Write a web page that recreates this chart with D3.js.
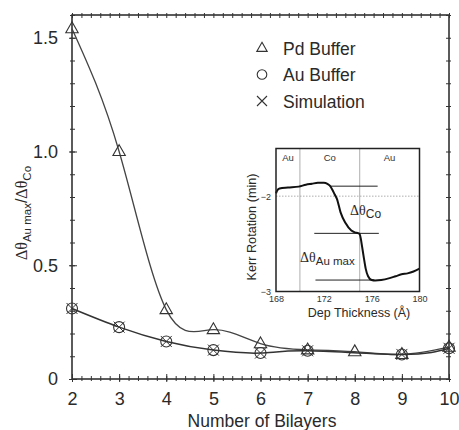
<!DOCTYPE html>
<html>
<head>
<meta charset="utf-8">
<style>
  body { margin: 0; background: #fff; }
  svg { display: block; font-family: "Liberation Sans", Arial, sans-serif; }
</style>
</head>
<body>
  <svg width="459" height="430"></svg>

  <script src="https://d3js.org/d3.v7.min.js"></script>

  <script>
    // ---- data ----
    const bilayers = [2, 3, 4, 5, 6, 7, 8, 9, 10];
    const pdBuffer = [1.54, 1.0, 0.305, 0.217, 0.155, 0.128, 0.12, 0.108, 0.14];
    const auBilayers = [2, 3, 4, 5, 6, 7, 9, 10];
    const auBuffer = [0.31, 0.228, 0.165, 0.127, 0.114, 0.124, 0.108, 0.135];
    const simulation = [0.31, 0.228, 0.165, 0.127, 0.114, 0.124, 0.108, 0.135];

    const xTicks = [2, 3, 4, 5, 6, 7, 8, 9, 10];
    const yTicks = [0, 0.5, 1.0, 1.5];
    const yTickLabels = ["0", "0.5", "1.0", "1.5"];
    const legendNames = ["Pd Buffer", "Au Buffer", "Simulation"];

    // inset: Kerr rotation vs deposited thickness
    const depThickness = [168.0, 168.1, 168.3, 169.0, 169.9, 170.5, 171.0, 171.5, 172.0, 172.3,
                          172.5, 172.7, 172.9, 173.1, 173.4, 173.8, 174.3, 174.6, 174.9, 175.0,
                          175.1, 175.2, 175.35, 175.5, 175.7, 176.0, 176.3, 176.8, 177.5, 178.0,
                          178.5, 179.0, 179.5, 180.0];
    const kerrRotation = [-1.97, -1.94, -1.92, -1.91, -1.90, -1.88, -1.87, -1.86, -1.86, -1.87,
                          -1.89, -1.93, -1.98, -2.03, -2.17, -2.28, -2.36, -2.38, -2.39, -2.40,
                          -2.45, -2.53, -2.65, -2.76, -2.84, -2.88, -2.885, -2.88, -2.86, -2.84,
                          -2.82, -2.81, -2.79, -2.76];
    const insetXTicks = [168, 172, 176, 180];
    const insetYTicks = [-2, -3];
    const insetGrid = [170, 175];
    const insetLayers = [["Au", 169], ["Co", 172.5], ["Au", 177.5]];
    // reference levels [value, from, to]
    const insetLevels = [[-1.895, 172.5, 176.5], [-2.39, 171.2, 176.6], [-2.88, 171.3, 176.2]];

    const svg = d3.select("svg");
    const ink = "#2a2a2a";

    // ---- main plot scales ----
    const x = d3.scaleLinear().domain([2, 10]).range([72, 449]);
    const y = d3.scaleLinear().domain([0, 1.6]).range([379, 15]);

    // frame
    svg.append("rect")
      .attr("x", 72).attr("y", 15)
      .attr("width", 377).attr("height", 364)
      .attr("fill", "none").attr("stroke", "#333").attr("stroke-width", 1.6);

    // helper: axis ticks that cross the frame line
    function crossTicks(g, inner, outer, vertical) {
      g.select(".domain").remove();
      g.selectAll("line")
        .attr("stroke", "#333")
        .attr(vertical ? "x1" : "y1", inner)
        .attr(vertical ? "x2" : "y2", outer);
    }

    const minorX = d3.range(2, 10.001, 0.2);
    const minorY = d3.range(0, 1.601, 0.1);

    // bottom + top minor ticks
    svg.append("g").attr("transform", "translate(0,379)")
      .call(d3.axisBottom(x).tickValues(minorX).tickFormat(""))
      .call(g => crossTicks(g, -3, 2, false));
    svg.append("g").attr("transform", "translate(0,15)")
      .call(d3.axisTop(x).tickValues(minorX).tickFormat(""))
      .call(g => crossTicks(g, 3, -2, false));
    // left + right minor ticks
    svg.append("g").attr("transform", "translate(72,0)")
      .call(d3.axisLeft(y).tickValues(minorY).tickFormat(""))
      .call(g => crossTicks(g, 3, -2, true));
    svg.append("g").attr("transform", "translate(449,0)")
      .call(d3.axisRight(y).tickValues(minorY).tickFormat(""))
      .call(g => crossTicks(g, -3, 2, true));

    // major ticks with labels
    svg.append("g").attr("transform", "translate(0,379)")
      .call(d3.axisBottom(x).tickValues(xTicks).tickFormat(d3.format("d")).tickPadding(7))
      .call(g => crossTicks(g, -5, 3, false))
      .call(g => g.selectAll("text").attr("font-size", 18).attr("fill", ink)
        .attr("font-family", "Liberation Sans, Arial, sans-serif"));
    svg.append("g").attr("transform", "translate(72,0)")
      .call(d3.axisLeft(y).tickValues(yTicks).tickFormat((d, i) => yTickLabels[i]).tickPadding(8))
      .call(g => crossTicks(g, 5, -3, true))
      .call(g => g.selectAll("text").attr("font-size", 18).attr("fill", ink)
        .attr("font-family", "Liberation Sans, Arial, sans-serif"));

    // axis titles
    svg.append("text")
      .attr("x", 262).attr("y", 427)
      .attr("text-anchor", "middle")
      .attr("font-size", 17.5).attr("fill", ink)
      .text("Number of Bilayers");

    const yTitle = svg.append("text")
      .attr("transform", "translate(27,213) rotate(-90)")
      .attr("text-anchor", "middle")
      .attr("font-size", 16).attr("fill", ink);
    yTitle.append("tspan").attr("font-family", "Liberation Serif, serif").text("Δθ");
    yTitle.append("tspan").attr("font-size", 11.5).attr("dy", 4).text("Au max");
    yTitle.append("tspan").attr("dy", -4).text("/");
    yTitle.append("tspan").attr("font-family", "Liberation Serif, serif").text("Δθ");
    yTitle.append("tspan").attr("font-size", 11.5).attr("dy", 4).text("Co");

    // ---- curves ----
    const line = d3.line().curve(d3.curveNatural).x(d => x(d[0])).y(d => y(d[1]));

    svg.append("path")
      .datum(bilayers.map((b, i) => [b, pdBuffer[i]]))
      .attr("d", line)
      .attr("fill", "none").attr("stroke", "#444").attr("stroke-width", 1.3);

    svg.append("path")
      .datum(auBilayers.map((b, i) => [b, auBuffer[i]]))
      .attr("d", line)
      .attr("fill", "none").attr("stroke", "#333").attr("stroke-width", 1.5);

    // ---- marker shapes ----
    const triPath = s => `M0,${-s * 1.1}L${s},${s * 0.65}L${-s},${s * 0.65}Z`;
    const xPath = s => `M${-s},${-s}L${s},${s}M${-s},${s}L${s},${-s}`;

    svg.append("g").selectAll("path")
      .data(bilayers.map((b, i) => [b, pdBuffer[i]]))
      .join("path")
      .attr("transform", d => `translate(${x(d[0])},${y(d[1])})`)
      .attr("d", triPath(6.2))
      .attr("fill", "none").attr("stroke", "#333").attr("stroke-width", 1.1);

    svg.append("g").selectAll("circle")
      .data(auBilayers.map((b, i) => [b, auBuffer[i]]))
      .join("circle")
      .attr("cx", d => x(d[0])).attr("cy", d => y(d[1]))
      .attr("r", 5.5)
      .attr("fill", "none").attr("stroke", "#333").attr("stroke-width", 1.1);

    svg.append("g").selectAll("path")
      .data(auBilayers.map((b, i) => [b, simulation[i]]))
      .join("path")
      .attr("transform", d => `translate(${x(d[0])},${y(d[1])})`)
      .attr("d", xPath(5.5))
      .attr("fill", "none").attr("stroke", "#333").attr("stroke-width", 1);

    // ---- legend ----
    const legend = svg.append("g");
    legendNames.forEach((name, i) => {
      const ly = 48 + i * 26.5;
      const sym = legend.append("path").attr("transform", `translate(262,${ly})`)
        .attr("fill", "none").attr("stroke", "#333").attr("stroke-width", 1.1);
      if (i === 0) sym.attr("d", triPath(5.2));
      if (i === 1) sym.attr("d", d3.arc()({ innerRadius: 0, outerRadius: 4.8, startAngle: 0, endAngle: 2 * Math.PI }));
      if (i === 2) sym.attr("d", xPath(5));
      legend.append("text")
        .attr("x", 283).attr("y", ly + 6.5)
        .attr("font-size", 17.5).attr("fill", ink)
        .text(name);
    });

    // ---- inset ----
    const ix = d3.scaleLinear().domain([168, 180]).range([276, 419.5]);
    const iy = d3.scaleLinear().domain([-3, -1.5]).range([291.5, 148.5]);
    const inset = svg.append("g");

    // vertical grid at layer boundaries
    inset.selectAll(".grid")
      .data(insetGrid)
      .join("line")
      .attr("x1", d => ix(d)).attr("x2", d => ix(d))
      .attr("y1", iy(-1.5)).attr("y2", iy(-3))
      .attr("stroke", "#999").attr("stroke-width", 0.8);

    // dotted level at -2
    inset.append("line")
      .attr("x1", ix(168)).attr("x2", ix(180))
      .attr("y1", iy(-2)).attr("y2", iy(-2))
      .attr("stroke", "#999").attr("stroke-width", 0.8).attr("stroke-dasharray", "1.5,1.5");

    // reference levels
    inset.selectAll(".lvl")
      .data(insetLevels)
      .join("line")
      .attr("x1", d => ix(d[1])).attr("x2", d => ix(d[2]))
      .attr("y1", d => iy(d[0])).attr("y2", d => iy(d[0]))
      .attr("stroke", "#222").attr("stroke-width", 1);

    // Kerr curve
    inset.append("path")
      .datum(depThickness.map((t, i) => [t, kerrRotation[i]]))
      .attr("d", d3.line().curve(d3.curveMonotoneX).x(d => ix(d[0])).y(d => iy(d[1])))
      .attr("fill", "none").attr("stroke", "#111").attr("stroke-width", 2);

    inset.append("rect")
      .attr("x", 276).attr("y", 148.5)
      .attr("width", 143.5).attr("height", 143)
      .attr("fill", "none").attr("stroke", "#222").attr("stroke-width", 1.5);

    // inset tick labels
    inset.append("g").attr("transform", "translate(0,291.5)")
      .call(d3.axisBottom(ix).tickValues(insetXTicks).tickSize(0).tickPadding(4))
      .call(g => g.select(".domain").remove())
      .call(g => g.selectAll("text").attr("font-size", 9).attr("fill", "#333")
        .attr("font-family", "Liberation Sans, Arial, sans-serif"));
    inset.append("g").attr("transform", "translate(276,0)")
      .call(d3.axisLeft(iy).tickValues(insetYTicks).tickSize(0).tickPadding(5).tickFormat(d3.format("d")))
      .call(g => g.select(".domain").remove())
      .call(g => g.selectAll("text").attr("font-size", 9).attr("fill", "#333")
        .attr("font-family", "Liberation Sans, Arial, sans-serif"));

    // layer labels
    inset.selectAll(".layer")
      .data(insetLayers)
      .join("text")
      .attr("x", d => ix(d[1])).attr("y", 161)
      .attr("text-anchor", "middle")
      .attr("font-size", 9.5).attr("fill", "#333")
      .text(d => d[0]);

    // inset axis titles
    inset.append("text")
      .attr("x", 359).attr("y", 317)
      .attr("text-anchor", "middle")
      .attr("font-size", 12.5).attr("fill", ink)
      .text("Dep Thickness (Å)");
    inset.append("text")
      .attr("transform", "translate(256,227) rotate(-90)")
      .attr("text-anchor", "middle")
      .attr("font-size", 12.7).attr("fill", ink)
      .text("Kerr Rotation (min)");

    // delta-theta annotations
    const coLabel = inset.append("text").attr("x", 350).attr("y", 215).attr("font-size", 14).attr("fill", ink);
    coLabel.append("tspan").attr("font-family", "Liberation Serif, serif").text("Δθ");
    coLabel.append("tspan").attr("font-size", 12).attr("dy", 3).text("Co");

    const auLabel = inset.append("text").attr("x", 300).attr("y", 262).attr("font-size", 14).attr("fill", ink);
    auLabel.append("tspan").attr("font-family", "Liberation Serif, serif").text("Δθ");
    auLabel.append("tspan").attr("font-size", 11.5).attr("dy", 3).text("Au max");
  </script>
</body>
</html>
